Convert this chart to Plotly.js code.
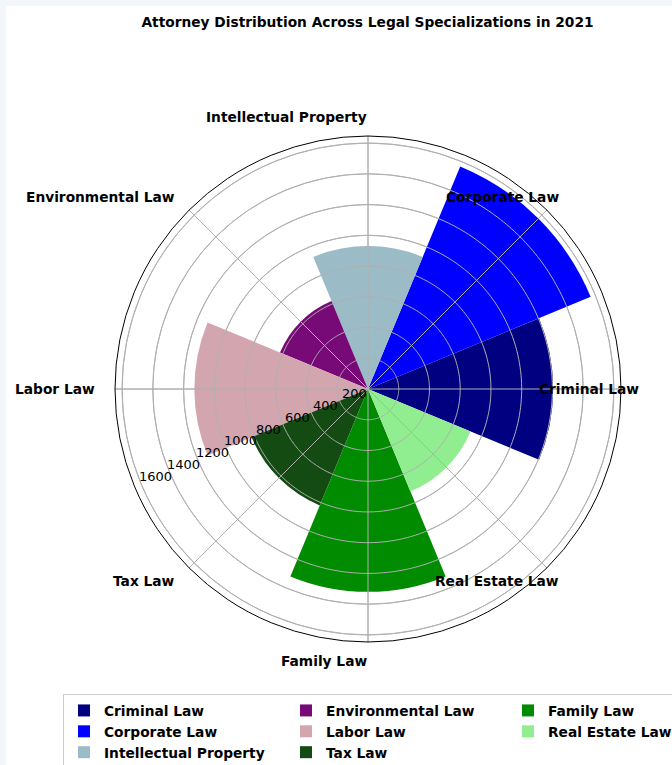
<!DOCTYPE html>
<html>
<head>
<meta charset="utf-8">
<script src="https://cdn.plot.ly/plotly-3.0.1.min.js"></script>
<style>
  html, body { margin: 0; padding: 0; background: #f3f6fa; width: 672px; height: 765px; overflow: hidden; }
  #chart { position: absolute; left: 6px; top: 6px; width: 666px; height: 759px; background: #ffffff; }
</style>
</head>
<body>
<div id="chart"></div>
<script>
// ---- data ----
const categories = ["Criminal Law", "Corporate Law", "Intellectual Property", "Environmental Law",
                    "Labor Law", "Tax Law", "Family Law", "Real Estate Law"];
const attorneys = [1205, 1568, 930, 620, 1130, 820, 1320, 722];
const colors = ["#000080", "#0000ff", "#9bbbc6", "#780a78", "#d3a5af", "#134b13", "#008b00", "#90ee90"];
const radialTicks = [200, 400, 600, 800, 1000, 1200, 1400, 1600];
const titleText = "Attorney Distribution Across Legal Specializations in 2021";

// ---- layout constants ----
const W = 666, H = 759;
const CX = 362, CY = 383, R = 253;      // polar centre / radius in px (div coords)
const LABEL_R = 272;                    // angular label radius (right-aligned)
const step = 360 / categories.length;
const rMax = Math.max(...attorneys) * 1.05;
const legendRows = 3;
const GRID = "#b0b0b0";
const RADIAL_ANGLE = 202.5;
const RADIAL_LABEL_INSET = 15.6;        // px, labels sit just inside each ring along the radial axis
const boldFont = { family: "DejaVu Sans", size: 13.75, color: "#000000", weight: "bold" };

const traces = categories.map((c, i) => ({
  type: "barpolar",
  name: c,
  r: [attorneys[i]],
  theta: [i * step],
  width: [step],
  marker: { color: colors[i], line: { width: 0 } },
  legendrank: (i % legendRows) * Math.ceil(categories.length / legendRows) + Math.floor(i / legendRows) + 1,
  hoverinfo: "name+r"
}));

// grid drawn above the bars (as in the reference)
const circleTheta = Array.from({ length: 361 }, (_, k) => k);
radialTicks.forEach(t => traces.push({
  type: "scatterpolar", mode: "lines", r: circleTheta.map(() => t), theta: circleTheta,
  line: { color: GRID, width: 1 }, showlegend: false, hoverinfo: "skip"
}));
categories.forEach((c, i) => traces.push({
  type: "scatterpolar", mode: "lines", r: [0, rMax], theta: [i * step, i * step],
  line: { color: GRID, width: 1 }, showlegend: false, hoverinfo: "skip"
}));

const annotations = categories.map((c, i) => {
  const a = i * step * Math.PI / 180;
  const px = CX + LABEL_R * Math.cos(a);
  const py = CY - LABEL_R * Math.sin(a);
  return {
    text: c, showarrow: false, xref: "paper", yref: "paper",
    x: px / W, y: 1 - py / H, xanchor: "right", yanchor: "middle", borderpad: 0,
    font: boldFont
  };
});

// radial tick labels along the radial axis, matplotlib-style
const ra = RADIAL_ANGLE * Math.PI / 180;
radialTicks.forEach(t => {
  const rp = t * R / rMax - RADIAL_LABEL_INSET;
  const px = CX + rp * Math.cos(ra);
  const py = CY - rp * Math.sin(ra) - 1;
  annotations.push({
    text: String(t), showarrow: false, xref: "paper", yref: "paper",
    x: px / W, y: 1 - py / H, xanchor: "center", yanchor: "middle", borderpad: 0,
    font: { family: "DejaVu Sans", size: 13, color: "#000000" }
  });
});

const layout = {
  width: W, height: H,
  margin: { l: 0, r: 0, t: 0, b: 0, autoexpand: false },
  paper_bgcolor: "#ffffff",
  font: { family: "DejaVu Sans", color: "#000000" },
  title: {
    text: titleText, x: 361.5 / W, xanchor: "center", xref: "paper",
    y: 1 - 16 / H, yanchor: "middle", yref: "container",
    font: boldFont
  },
  polar: {
    domain: { x: [(CX - R) / W, (CX + R) / W], y: [1 - (CY + R) / H, 1 - (CY - R) / H] },
    bgcolor: "#ffffff",
    radialaxis: {
      range: [0, rMax], tickvals: radialTicks, ticktext: radialTicks.map(String),
      angle: RADIAL_ANGLE, showticklabels: false,
      showline: false, ticks: "", gridcolor: GRID, gridwidth: 1
    },
    angularaxis: {
      type: "linear", direction: "counterclockwise", rotation: 0,
      tickmode: "linear", tick0: 0, dtick: step, showticklabels: false, ticks: "",
      gridcolor: GRID, gridwidth: 1, showline: true, linecolor: "#000000", linewidth: 1,
      layer: "above traces"
    }
  },
  showlegend: true,
  legend: {
    orientation: "h", x: 57 / W, xanchor: "left", y: 1 - 688 / H, yanchor: "top",
    entrywidth: 177, entrywidthmode: "pixels",
    bgcolor: "#ffffff", bordercolor: "#cccccc", borderwidth: 1,
    font: boldFont
  },
  annotations: annotations
};

Plotly.newPlot("chart", traces, layout, { displayModeBar: false, staticPlot: true });
</script>
</body>
</html>
